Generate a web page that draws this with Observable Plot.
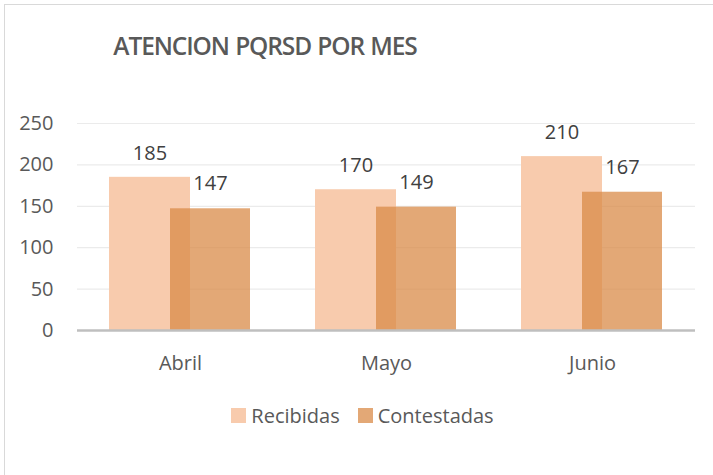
<!DOCTYPE html>
<html>
<head>
<meta charset="utf-8">
<script src="https://cdn.jsdelivr.net/npm/d3@7"></script>
<script src="https://cdn.jsdelivr.net/npm/@observablehq/plot@0.6"></script>
<style>
  html, body { margin: 0; padding: 0; background: #fff; }
  #wrap { position: relative; width: 713px; height: 475px; overflow: hidden; font-family: "Open Sans", sans-serif; }
  #frame { position: absolute; left: 4px; top: 4px; width: 760px; height: 520px; border: 1.5px solid #d9d9d9; box-sizing: border-box; }
  #title { position: absolute; left: 0; width: 530px; top: 29px; text-align: center; font-size: 24.5px; font-weight: 600; color: #595959; letter-spacing: -1.1px; word-spacing: 1px; }
  #chart { position: absolute; left: 0; top: 0; }
  #legend { position: absolute; top: 402px; left: 0; width: 725px; text-align: center; font-size: 20px; color: #595959; }
  .item { display: inline-flex; align-items: center; margin: 0 9px; }
  .sw { display: inline-block; width: 15px; height: 15px; margin-right: 5px; }
</style>
</head>
<body>
<div id="wrap">
  <div id="frame"></div>
  <div id="chart"></div>
  <div id="title">ATENCION PQRSD POR MES</div>
  <div id="legend"></div>
</div>
<script>
const months = ["Abril", "Mayo", "Junio"];
const recibidas = [185, 170, 210];
const contestadas = [147, 149, 167];
const yTicks = [0, 50, 100, 150, 200, 250];
const seriesNames = ["Recibidas", "Contestadas"];
const seriesColors = ["#f8cbad", "#d98b48"];

const dataR = months.map((m, i) => ({month: m, value: recibidas[i]}));
const dataC = months.map((m, i) => ({month: m, value: contestadas[i]}));

const chart = Plot.plot({
  width: 713,
  height: 475,
  marginLeft: 77,
  marginRight: 18,
  marginTop: 123,
  marginBottom: 145,
  style: {fontFamily: "'Open Sans', sans-serif", background: "transparent"},
  x: {domain: months, padding: 0, label: null},
  y: {domain: [0, 250], label: null},
  marks: [
    Plot.ruleY(yTicks.filter(d => d > 0), {stroke: "#ebebeb", strokeWidth: 1.2}),
    Plot.barY(dataR, {x: "month", y: "value", fill: seriesColors[0], insetLeft: 32, insetRight: 93}),
    Plot.barY(dataC, {x: "month", y: "value", fill: seriesColors[1], fillOpacity: 0.75, insetLeft: 93, insetRight: 33}),
    Plot.ruleY([0], {stroke: "#bfbfbf", strokeWidth: 2.5}),
    Plot.text(dataR, {x: "month", y: "value", text: d => String(d.value), dx: -30.5, dy: -24, fontSize: 20, fill: "#404040"}),
    Plot.text(dataC, {x: "month", y: "value", text: d => String(d.value), dx: 30, dy: -25, fontSize: 20, fill: "#404040"}),
    Plot.axisY({ticks: yTicks, tickSize: 0, tickPadding: 24, fontSize: 20, color: "#595959", label: null}),
    Plot.axisX({tickSize: 0, tickPadding: 25, fontSize: 20, color: "#595959", label: null})
  ]
});
document.getElementById("chart").appendChild(chart);

const legend = document.getElementById("legend");
seriesNames.forEach((name, i) => {
  const item = document.createElement("span");
  item.className = "item";
  const sw = document.createElement("span");
  sw.className = "sw";
  sw.style.background = seriesColors[i];
  if (i === 1) sw.style.opacity = 0.75;
  item.appendChild(sw);
  item.appendChild(document.createTextNode(name));
  legend.appendChild(item);
});
</script>
</body>
</html>
